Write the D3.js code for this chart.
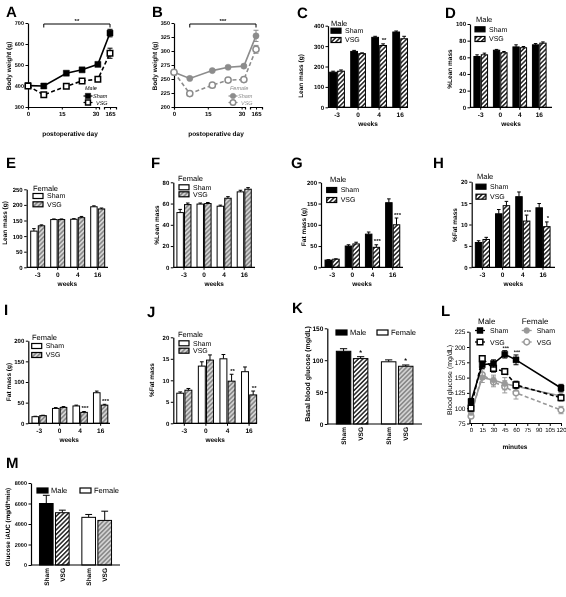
<!DOCTYPE html>
<html><head><meta charset="utf-8">
<script src="https://cdn.jsdelivr.net/npm/d3@7"></script>
<style>body{margin:0;background:#fff}svg{display:block;will-change:transform}text{text-rendering:geometricPrecision}</style>
</head><body>
<svg id="c" width="566" height="597"></svg>
<script>
// ---------- DATA ----------
const bwDays = [0, 7, 17, 24, 31, 165];
const bwMaleSham = [402, 400, 461, 477, 503, 652];
const bwMaleShamSE = [6, 6, 8, 8, 9, 18];
const bwMaleVSG = [400, 358, 399, 424, 432, 556];
const bwMaleVSGSE = [6, 6, 8, 8, 9, 24];
const bwFemaleSham = [262, 251, 265, 271, 273, 327];
const bwFemaleShamSE = [2, 2, 2, 2, 3, 10];
const bwFemaleVSG = [262, 224, 239, 248, 249, 303];
const bwFemaleVSGSE = [2, 2, 3, 3, 3, 7];

const weeks = ["-3", "0", "4", "16"];
const leanMaleSham = [172, 274, 343, 369], leanMaleShamSE = [5, 5, 5, 5];
const leanMaleVSG = [177, 263, 303, 336], leanMaleVSGSE = [6, 4, 8, 12];
const leanMaleStars = ["", "", "**", ""];
const pctLeanMaleSham = [61, 68.5, 72.5, 75], pctLeanMaleShamSE = [2, 1, 2.5, 1.5];
const pctLeanMaleVSG = [63, 65.5, 71.5, 77], pctLeanMaleVSGSE = [2, 1.5, 1.5, 1.5];
const leanFemaleSham = [116, 153, 154, 194], leanFemaleShamSE = [8, 2, 2, 3];
const leanFemaleVSG = [133, 153, 159, 187], leanFemaleVSGSE = [3, 2, 4, 3];
const pctLeanFemaleSham = [51.5, 59.5, 57.5, 71], pctLeanFemaleShamSE = [3, 1, 1, 1.5];
const pctLeanFemaleVSG = [59, 60, 65, 73.5], pctLeanFemaleVSGSE = [1.5, 1, 1.5, 1.5];
const fatMaleSham = [17, 50, 78, 152], fatMaleShamSE = [1, 3, 5, 9];
const fatMaleVSG = [19, 55, 47, 100], fatMaleVSGSE = [1, 4, 6, 16];
const fatMaleStars = ["", "", "***", "***"];
const pctFatMaleSham = [5.8, 12.5, 16.5, 13.9], pctFatMaleShamSE = [0.4, 1, 1.1, 1];
const pctFatMaleVSG = [6.5, 14.4, 10.8, 9.5], pctFatMaleVSGSE = [0.5, 1, 1.4, 1.1];
const pctFatMaleStars = ["", "", "***", "*"];
const fatFemaleSham = [16, 36, 42, 74], fatFemaleShamSE = [1, 2, 2, 4];
const fatFemaleVSG = [18.5, 38.5, 26.5, 44], fatFemaleVSGSE = [1, 2, 2, 2];
const fatFemaleStars = ["", "", "***", "***"];
const pctFatFemaleSham = [7.0, 13.3, 15.0, 12.0], pctFatFemaleShamSE = [0.3, 1, 1, 1.1];
const pctFatFemaleVSG = [7.7, 14.7, 9.8, 6.6], pctFatFemaleVSGSE = [0.4, 1.2, 1.6, 0.9];
const pctFatFemaleStars = ["", "", "**", "**"];

const sexes = ["Male", "Female"];
const groups = ["Sham", "VSG"];
const basalGlucose = [114, 102.5, 97.5, 90.5], basalGlucoseSE = [4, 3, 3, 2];
const basalStars = ["", "*", "", "*"];

const gttMinutes = [0, 15, 30, 45, 60, 120];
const gttMaleSham = [111, 171, 173, 188, 179, 133], gttMaleShamSE = [5, 6, 6, 6, 8, 6];
const gttMaleVSG = [100, 181, 165, 160, 138, 117], gttMaleVSGSE = [5, 4, 6, 5, 6, 5];
const gttFemaleSham = [93, 150, 146, 140, 136, 120], gttFemaleShamSE = [4, 8, 8, 10, 8, 6];
const gttFemaleVSG = [87, 155, 143, 135, 125, 97], gttFemaleVSGSE = [4, 8, 8, 10, 10, 6];
const gttStars = ["", "", "", "***", "***", ""];

const iAUC = [6000, 5100, 4650, 4350], iAUCSE = [800, 250, 280, 900];

// ---------- HELPERS ----------
const FONT = "'Liberation Sans', Arial, Helvetica, sans-serif";
const svg = d3.select("#c");
const defs = svg.append("defs");
function hatch(id, bg, fg, w) {
  const p = defs.append("pattern").attr("id", id).attr("patternUnits", "userSpaceOnUse")
    .attr("width", 3.2).attr("height", 3.2).attr("patternTransform", "rotate(45)");
  p.append("rect").attr("width", 3.2).attr("height", 3.2).attr("fill", bg);
  p.append("line").attr("x1", 1.6).attr("x2", 1.6).attr("y1", -1).attr("y2", 4.2)
    .attr("stroke", fg).attr("stroke-width", w);
}
hatch("hm", "#fff", "#000", 1.3);
hatch("hf", "#8a8a8a", "#fff", 1.0);
const maleFills = ["#000", "url(#hm)"], femaleFills = ["#fff", "url(#hf)"];

function T(x, y, s, size, o = {}) {
  const t = svg.append("text").attr("x", x).attr("y", y).text(s)
    .attr("font-size", size).attr("font-family", FONT)
    .attr("font-weight", o.bold ? "bold" : "normal")
    .attr("text-anchor", o.anchor || "start").attr("fill", o.fill || "#000");
  if (o.italic) t.attr("font-style", "italic");
  if (o.rot) t.attr("transform", `rotate(-90,${x},${y})`);
  return t;
}
function styleAxis(g, size, bold) {
  g.attr("font-family", FONT).attr("font-size", size).attr("font-weight", bold ? "bold" : "normal");
  g.select(".domain").attr("stroke-width", 1.2);
  g.selectAll(".tick line").attr("stroke-width", 1);
}
function ytitle(cx, cy, s, size, bold = true) {
  T(cx + size * 0.36, cy, s, size, { bold, anchor: "middle", rot: true });
}
function letter(x, y, s) { T(x, y, s, 15, { bold: true }); }

function errBar(g, x, y0, y1, cw, color = "#000") {
  g.append("line").attr("x1", x).attr("x2", x).attr("y1", y0).attr("y2", y1).attr("stroke", color).attr("stroke-width", 1);
  g.append("line").attr("x1", x - cw / 2).attr("x2", x + cw / 2).attr("y1", y1).attr("y2", y1).attr("stroke", color).attr("stroke-width", 1);
}

// ---------- BAR PANELS (C-J) ----------
function barPanel(o) {
  const g = svg.append("g");
  const y = d3.scaleLinear().domain([0, o.max]).range([o.yBot, o.yTop]);
  const xb = d3.scaleBand().domain(weeks).range([o.x0, o.x0 + 4 * o.step]).paddingInner(0.3).paddingOuter(o.po ?? 0.15);
  const xs = d3.scaleBand().domain(groups).range([0, xb.bandwidth()]).paddingInner(0.15);
  const fills = o.male ? maleFills : femaleFills;
  const series = [[o.sham, o.shamSE], [o.vsg, o.vsgSE]];
  series.forEach(([vals, se], si) => {
    const bw = xs.bandwidth();
    weeks.forEach((w, i) => {
      const bx = xb(w) + xs(groups[si]);
      errBar(g, bx + bw / 2, y(vals[i]), y(vals[i] + se[i]), bw * 0.55);
    });
    g.selectAll(null).data(vals).join("rect")
      .attr("x", (d, i) => xb(weeks[i]) + xs(groups[si]))
      .attr("y", d => y(d)).attr("width", bw).attr("height", d => o.yBot - y(d))
      .attr("fill", fills[si]).attr("stroke", "#000").attr("stroke-width", 1);
    if (si === 1 && o.stars) {
      g.selectAll(null).data(o.stars).join("text")
        .attr("x", (d, i) => xb(weeks[i]) + xs("VSG") + bw / 2 + 1)
        .attr("y", (d, i) => y(vals[i] + se[i]) - 1.5)
        .attr("text-anchor", "middle").attr("font-size", 6).attr("font-family", FONT).attr("font-weight", "bold").text(d => d);
    }
  });
  const ya = g.append("g").attr("transform", `translate(${o.x0},0)`)
    .call(d3.axisLeft(y).tickValues(o.ticks).tickFormat(d3.format("d")).tickSize(2.5).tickSizeOuter(0).tickPadding(1.5));
  styleAxis(ya, 6, true);
  const xa = g.append("g").attr("transform", `translate(0,${o.yBot})`)
    .call(d3.axisBottom(xb).tickSize(2.5).tickSizeOuter(0).tickPadding(2.5));
  styleAxis(xa, 6.5, true);
  xa.select(".domain").remove();
  g.append("line").attr("x1", o.x0).attr("x2", o.x1).attr("y1", o.yBot).attr("y2", o.yBot).attr("stroke", "#000").attr("stroke-width", 1.2);
  T((o.x0 + o.x1) / 2, o.yBot + 19, "weeks", 6.5, { bold: true, anchor: "middle" });
  ytitle(o.tx, o.ty, o.title, 6.5);
  letter(o.lx, o.ly, o.letter);
  // legend
  const L = o.leg;
  T(L.x, L.y, o.male ? "Male" : "Female", 7.5);
  [0, 1].forEach(k => {
    const cy = L.y + L.dy1 + k * L.dy2;
    g.append("rect").attr("x", L.sx).attr("y", cy - 2.5).attr("width", 10).attr("height", 5)
      .attr("fill", fills[k]).attr("stroke", "#000").attr("stroke-width", 1.2);
    T(L.sx + 14, cy + 2.4, groups[k], 7);
  });
}

barPanel({ letter: "C", lx: 297, ly: 18, x0: 328, x1: 408, step: 20.3, po: 0.08, yTop: 25.7, yBot: 107.3, max: 400,
  ticks: [0, 100, 200, 300, 400], sham: leanMaleSham, shamSE: leanMaleShamSE, vsg: leanMaleVSG, vsgSE: leanMaleVSGSE,
  stars: leanMaleStars, male: true, title: "Lean mass (g)", tx: 301, ty: 76,
  leg: { x: 331, y: 25.5, sx: 331, dy1: 5.2, dy2: 9.3 } });
barPanel({ letter: "D", lx: 445, ly: 18, x0: 470, x1: 552, step: 20, po: 0.2, yTop: 24, yBot: 107.3, max: 100,
  ticks: [0, 20, 40, 60, 80, 100], sham: pctLeanMaleSham, shamSE: pctLeanMaleShamSE, vsg: pctLeanMaleVSG, vsgSE: pctLeanMaleVSGSE,
  male: true, title: "%Lean mass", tx: 450, ty: 69,
  leg: { x: 476, y: 22, sx: 475, dy1: 7.3, dy2: 9.7 } });
barPanel({ letter: "E", lx: 6, ly: 168, x0: 26.7, x1: 108, step: 20.5, po: 0.2, yTop: 189.3, yBot: 267.3, max: 250,
  ticks: [0, 50, 100, 150, 200, 250], sham: leanFemaleSham, shamSE: leanFemaleShamSE, vsg: leanFemaleVSG, vsgSE: leanFemaleVSGSE,
  male: false, title: "Lean mass (g)", tx: 5, ty: 223,
  leg: { x: 33, y: 191, sx: 33, dy1: 5, dy2: 8.3 } });
barPanel({ letter: "F", lx: 151, ly: 168, x0: 173.3, x1: 255, step: 20.4, po: 0.18, yTop: 182.3, yBot: 267.3, max: 80,
  ticks: [0, 20, 40, 60, 80], sham: pctLeanFemaleSham, shamSE: pctLeanFemaleShamSE, vsg: pctLeanFemaleVSG, vsgSE: pctLeanFemaleVSGSE,
  male: false, title: "%Lean mass", tx: 156.7, ty: 225,
  leg: { x: 178, y: 181, sx: 179, dy1: 6.3, dy2: 7 } });
barPanel({ letter: "G", lx: 291, ly: 168, x0: 321, x1: 403, step: 20.7, po: 0.2, yTop: 182.3, yBot: 267.3, max: 200,
  ticks: [0, 50, 100, 150, 200], sham: fatMaleSham, shamSE: fatMaleShamSE, vsg: fatMaleVSG, vsgSE: fatMaleVSGSE,
  stars: fatMaleStars, male: true, title: "Fat mass (g)", tx: 303.3, ty: 227,
  leg: { x: 330, y: 182, sx: 326.7, dy1: 8, dy2: 10 } });
barPanel({ letter: "H", lx: 433, ly: 168, x0: 471.7, x1: 555, step: 20.5, po: 0.18, yTop: 181.7, yBot: 267.3, max: 20,
  ticks: [0, 5, 10, 15, 20], sham: pctFatMaleSham, shamSE: pctFatMaleShamSE, vsg: pctFatMaleVSG, vsgSE: pctFatMaleVSGSE,
  stars: pctFatMaleStars, male: true, title: "%Fat mass", tx: 455, ty: 225,
  leg: { x: 477, y: 178.5, sx: 476, dy1: 8.2, dy2: 10 } });
barPanel({ letter: "I", lx: 4, ly: 315, x0: 28.3, x1: 110, step: 20.8, po: 0.18, yTop: 340.7, yBot: 423.3, max: 200,
  ticks: [0, 50, 100, 150, 200], sham: fatFemaleSham, shamSE: fatFemaleShamSE, vsg: fatFemaleVSG, vsgSE: fatFemaleVSGSE,
  stars: fatFemaleStars, male: false, title: "Fat mass (g)", tx: 9, ty: 382,
  leg: { x: 32, y: 339.5, sx: 31.7, dy1: 6.5, dy2: 9 } });
barPanel({ letter: "J", lx: 147, ly: 317, x0: 173.3, x1: 257, step: 21.7, po: 0.16, yTop: 337.3, yBot: 423.3, max: 20,
  ticks: [0, 5, 10, 15, 20], sham: pctFatFemaleSham, shamSE: pctFatFemaleShamSE, vsg: pctFatFemaleVSG, vsgSE: pctFatFemaleVSGSE,
  stars: pctFatFemaleStars, male: false, title: "%Fat mass", tx: 152, ty: 380,
  leg: { x: 178, y: 336.5, sx: 179, dy1: 6.8, dy2: 7.4 } });

// ---------- BODY WEIGHT PANELS (A, B) ----------
function bodyPanel(o) {
  const g = svg.append("g");
  const xa = d3.scaleLinear().domain([0, 31.5]).range([o.x0, o.x0 + 71]);
  const xb = d3.scaleLinear().domain([160, 170]).range([o.x0 + 76, o.x0 + 88]);
  const xf = d => d < 100 ? xa(d) : xb(d);
  const y = d3.scaleLinear().domain(o.yDom).range([107, 23]);
  const ya = g.append("g").attr("transform", `translate(${o.x0},0)`)
    .call(d3.axisLeft(y).tickValues(o.yTicks).tickSize(2.5).tickSizeOuter(0).tickPadding(1.5));
  styleAxis(ya, 5.5, true);
  const gx1 = g.append("g").attr("transform", "translate(0,107)")
    .call(d3.axisBottom(xa).tickValues([0, 15, 30]).tickSize(2.5).tickSizeOuter(2.5).tickPadding(2));
  styleAxis(gx1, 6, true);
  const gx2 = g.append("g").attr("transform", "translate(0,107)")
    .call(d3.axisBottom(xb).tickValues([165]).tickSize(2.5).tickSizeOuter(2.5).tickPadding(2));
  styleAxis(gx2, 6, true);
  o.series.forEach(s => {
    const pts = bwDays.map((d, i) => [xf(d), y(s.vals[i])]);
    g.append("path").attr("d", d3.line()(pts)).attr("fill", "none").attr("stroke", s.color)
      .attr("stroke-width", 1.6).attr("stroke-dasharray", s.dash ? "4,2.5" : null);
    bwDays.forEach((d, i) => {
      errBar(g, xf(d), y(s.vals[i] + s.se[i]), y(s.vals[i] - s.se[i]), 0.01, s.color);
      g.append("line").attr("x1", xf(d) - 2.5).attr("x2", xf(d) + 2.5).attr("y1", y(s.vals[i] + s.se[i])).attr("y2", y(s.vals[i] + s.se[i])).attr("stroke", s.color);
      g.append("line").attr("x1", xf(d) - 2.5).attr("x2", xf(d) + 2.5).attr("y1", y(s.vals[i] - s.se[i])).attr("y2", y(s.vals[i] - s.se[i])).attr("stroke", s.color);
    });
    g.selectAll(null).data(bwDays).join("path")
      .attr("transform", (d, i) => `translate(${xf(d)},${y(s.vals[i])})`)
      .attr("d", d3.symbol().type(s.shape).size(s.size))
      .attr("fill", s.open ? "#fff" : s.color).attr("stroke", s.color).attr("stroke-width", s.open ? 1.5 : 0.5);
  });
  // bracket
  const bx0 = xf(7), bx1 = xf(165);
  g.append("path").attr("d", `M${bx0},27.5V24H${bx1}V27.5`).attr("fill", "none").attr("stroke", "#000").attr("stroke-width", 1);
  T((bx0 + bx1) / 2, 22.5, o.sig, 6, { bold: true, anchor: "middle" });
  T(o.x0 + 42, 135.5, "postoperative day", 6.5, { bold: true, anchor: "middle" });
  ytitle(o.x0 - 19.5, 66, "Body weight (g)", 6.5);
  letter(o.x0 - 22, 17, o.letter);
  // legend
  const L = o.leg;
  T(L.x, L.y, L.title, 5.5, { italic: true, fill: o.series[0].color });
  o.series.forEach((s, k) => {
    const cy = L.y + 6 + k * 6.5;
    g.append("line").attr("x1", L.sx - 4.5).attr("x2", L.sx + 4.5).attr("y1", cy).attr("y2", cy).attr("stroke", s.color).attr("stroke-width", 1.2);
    g.append("path").attr("transform", `translate(${L.sx},${cy})`).attr("d", d3.symbol().type(s.shape).size(s.size * 0.8))
      .attr("fill", s.open ? "#fff" : s.color).attr("stroke", s.color).attr("stroke-width", s.open ? 1.5 : 0.5);
    T(L.sx + 5 + k * 3, cy + 2, groups[k], 5.5, { italic: true, fill: s.color });
  });
}
bodyPanel({ letter: "A", x0: 28, yDom: [300, 700], yTicks: [300, 400, 500, 600, 700], sig: "**",
  series: [
    { vals: bwMaleSham, se: bwMaleShamSE, color: "#000", dash: false, shape: d3.symbolSquare, size: 36, open: false },
    { vals: bwMaleVSG, se: bwMaleVSGSE, color: "#000", dash: true, shape: d3.symbolSquare, size: 30, open: true }],
  leg: { x: 85, y: 90, title: "Male", sx: 88 } });
bodyPanel({ letter: "B", x0: 174, yDom: [200, 350], yTicks: [200, 225, 250, 275, 300, 325, 350], sig: "***",
  series: [
    { vals: bwFemaleSham, se: bwFemaleShamSE, color: "#8c8c8c", dash: false, shape: d3.symbolCircle, size: 30, open: false },
    { vals: bwFemaleVSG, se: bwFemaleVSGSE, color: "#8c8c8c", dash: true, shape: d3.symbolCircle, size: 30, open: true }],
  leg: { x: 230, y: 90, title: "Female", sx: 233 } });

// ---------- GROUPED BARS (K, M) ----------
function sexBars(o) {
  const g = svg.append("g");
  const y = d3.scaleLinear().domain([0, o.max]).range([o.yBot, o.yTop]);
  const xo = d3.scaleBand().domain(sexes).range([o.x0, o.x1]).paddingInner(0.3).paddingOuter(0.2);
  const xi = d3.scaleBand().domain(groups).range([0, xo.bandwidth()]).paddingInner(0.15);
  const bw = xi.bandwidth();
  const cells = [];
  sexes.forEach(s => groups.forEach(gr => cells.push({ s, gr })));
  const fills = [...maleFills, ...femaleFills];
  cells.forEach((c, i) => {
    const bx = xo(c.s) + xi(c.gr);
    errBar(g, bx + bw / 2, y(o.vals[i]), y(o.vals[i] + o.se[i]), bw * 0.5);
    if (o.stars && o.stars[i]) T(bx + bw / 2, y(o.vals[i] + o.se[i]) - 2, o.stars[i], 7, { bold: true, anchor: "middle" });
  });
  g.selectAll(null).data(o.vals).join("rect")
    .attr("x", (d, i) => xo(cells[i].s) + xi(cells[i].gr)).attr("y", d => y(d))
    .attr("width", bw).attr("height", d => o.yBot - y(d))
    .attr("fill", (d, i) => fills[i]).attr("stroke", "#000").attr("stroke-width", 1);
  const ya = g.append("g").attr("transform", `translate(${o.x0},0)`)
    .call(d3.axisLeft(y).tickValues(o.ticks).tickFormat(d3.format("d")).tickSize(2.5).tickSizeOuter(0).tickPadding(1.5));
  styleAxis(ya, o.tf, true);
  g.append("line").attr("x1", o.x0).attr("x2", o.x1).attr("y1", o.yBot).attr("y2", o.yBot).attr("stroke", "#000").attr("stroke-width", 1.2);
  cells.forEach(c => {
    const cx = xo(c.s) + xi(c.gr) + bw / 2;
    T(cx + 2.3, o.yBot + 3, c.gr, 6.5, { bold: true, anchor: "end", rot: true });
  });
  ytitle(o.tx, o.ty, o.title, o.titleSize);
  letter(o.lx, o.ly, o.letter);
  sexes.forEach((s, k) => {
    const sx = o.legX[k];
    g.append("rect").attr("x", sx).attr("y", o.legY - 2.5).attr("width", 11).attr("height", 5)
      .attr("fill", k === 0 ? "#000" : "#fff").attr("stroke", "#000").attr("stroke-width", 1.2);
    T(sx + 14, o.legY + 2.8, s, 7.5);
  });
}
sexBars({ letter: "K", lx: 292, ly: 313, x0: 327.3, x1: 422, yTop: 328.3, yBot: 424, max: 150, ticks: [0, 50, 100, 150], tf: 6.5,
  vals: basalGlucose, se: basalGlucoseSE, stars: basalStars, title: "Basal blood glucose (mg/dL)", titleSize: 7, tx: 307, ty: 374,
  legX: [336, 377], legY: 332.5 });
sexBars({ letter: "M", lx: 6, ly: 468, x0: 31, x1: 120, yTop: 483, yBot: 565, max: 8000, ticks: [0, 2000, 4000, 6000, 8000], tf: 5.5,
  vals: iAUC, se: iAUCSE, title: "Glucose iAUC (mg/dl*min)", titleSize: 6.3, tx: 7.5, ty: 527,
  legX: [37, 80], legY: 490.5 });

// ---------- GTT (L) ----------
(function () {
  const g = svg.append("g");
  const x = d3.scaleLinear().domain([0, 120]).range([471, 561]);
  const y = d3.scaleLinear().domain([75, 225]).range([423.5, 331.7]);
  const ya = g.append("g").attr("transform", "translate(469.5,0)")
    .call(d3.axisLeft(y).tickValues([75, 100, 125, 150, 175, 200, 225]).tickSize(2.5).tickSizeOuter(0).tickPadding(1.5));
  styleAxis(ya, 6.5, false);
  const xa = g.append("g").attr("transform", "translate(0,423.5)")
    .call(d3.axisBottom(x).tickValues(d3.range(0, 121, 15)).tickSize(2.5).tickSizeOuter(0).tickPadding(1.5));
  styleAxis(xa, 6, false);
  xa.select(".domain").attr("d", "M469.5,0H562");
  const ser = [
    { v: gttFemaleVSG, se: gttFemaleVSGSE, c: "#999", dash: true, shape: d3.symbolCircle, size: 26, open: true },
    { v: gttFemaleSham, se: gttFemaleShamSE, c: "#999", dash: false, shape: d3.symbolCircle, size: 26, open: false },
    { v: gttMaleVSG, se: gttMaleVSGSE, c: "#000", dash: true, shape: d3.symbolSquare, size: 32, open: true },
    { v: gttMaleSham, se: gttMaleShamSE, c: "#000", dash: false, shape: d3.symbolSquare, size: 36, open: false }];
  ser.forEach(s => {
    gttMinutes.forEach((t, i) => {
      const top = y(s.v[i] + s.se[i]), bot = y(s.v[i] - s.se[i]);
      g.append("line").attr("x1", x(t)).attr("x2", x(t)).attr("y1", top).attr("y2", bot).attr("stroke", s.c).attr("stroke-width", 1);
      [top, bot].forEach(yy => g.append("line").attr("x1", x(t) - 2.5).attr("x2", x(t) + 2.5).attr("y1", yy).attr("y2", yy).attr("stroke", s.c).attr("stroke-width", 1));
    });
    g.append("path").attr("d", d3.line().x((d, i) => x(gttMinutes[i])).y(d => y(d))(s.v))
      .attr("fill", "none").attr("stroke", s.c).attr("stroke-width", 1.6).attr("stroke-dasharray", s.dash ? "4,2.5" : null);
    g.selectAll(null).data(s.v).join("path")
      .attr("transform", (d, i) => `translate(${x(gttMinutes[i])},${y(d)})`)
      .attr("d", d3.symbol().type(s.shape).size(s.size))
      .attr("fill", s.open ? "#fff" : s.c).attr("stroke", s.c).attr("stroke-width", s.open ? 1.5 : 0.5);
  });
  gttStars.forEach((s, i) => { if (s) T(x(gttMinutes[i]) + 1, y(gttMaleSham[i] + gttMaleShamSE[i]) - 0.5, s, 5.5, { bold: true, anchor: "middle" }); });
  T(515, 449, "minutes", 6.5, { bold: true, anchor: "middle" });
  ytitle(449.5, 380, "Blood glucose (mg/dL)", 7, false);
  letter(441, 316, "L");
  // legend
  const leg = [
    { title: "Male", tx: 478, sx: 480, items: [ser[3], ser[2]] },
    { title: "Female", tx: 521.7, sx: 526.7, items: [ser[1], ser[0]] }];
  leg.forEach(l => {
    T(l.tx, 323.5, l.title, 8);
    l.items.forEach((s, k) => {
      const cy = 330.5 + k * 11.5;
      g.append("line").attr("x1", l.sx - 5).attr("x2", l.sx + 5).attr("y1", cy).attr("y2", cy).attr("stroke", s.c).attr("stroke-width", 1.3);
      g.append("path").attr("transform", `translate(${l.sx},${cy})`).attr("d", d3.symbol().type(s.shape).size(s.size))
        .attr("fill", s.open ? "#fff" : s.c).attr("stroke", s.c).attr("stroke-width", s.open ? 1.5 : 0.5);
      T(l.sx + 10, cy + 2.5, groups[k], 7);
    });
  });
})();
</script>
</body></html>
